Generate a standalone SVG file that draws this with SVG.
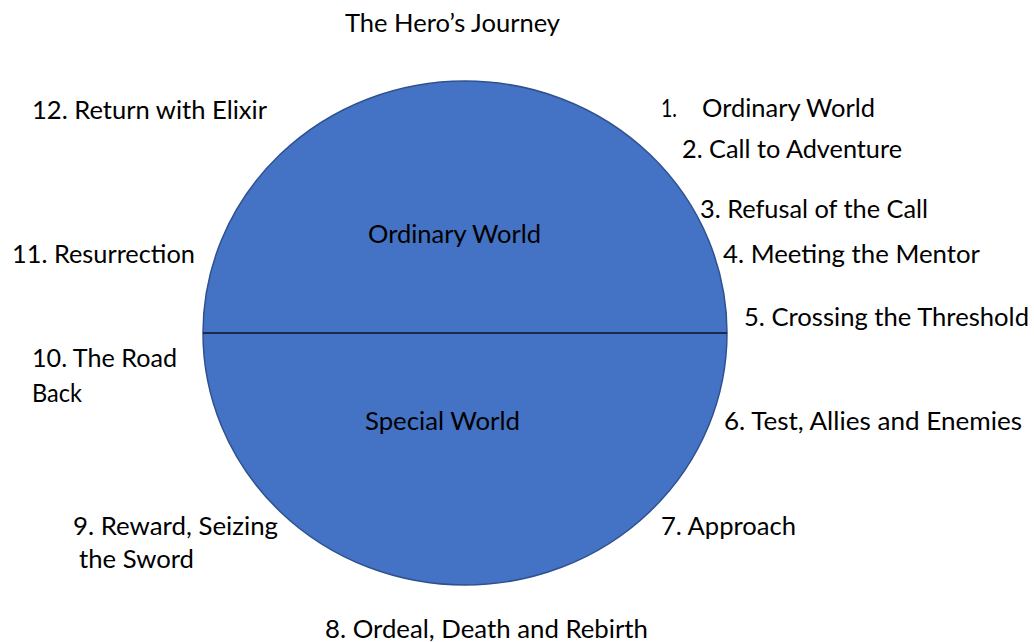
<svg xmlns="http://www.w3.org/2000/svg" width="1034" height="642" viewBox="0 0 1034 642">
<style>
  text { font-family: Lato, "Open Sans", "Liberation Sans", sans-serif; font-size: 25px; fill: #000; }
  .world { fill: #4472C4; stroke: #2F528F; stroke-width: 1.5; }
  .divider { stroke: #1B2A4A; stroke-width: 2; }
</style>
<rect width="1034" height="642" fill="#ffffff"/>
<text id="title" x="345" y="32" textLength="215" lengthAdjust="spacingAndGlyphs">The Hero’s Journey</text>
<g id="circle">
  <ellipse class="world" cx="465" cy="333" rx="262" ry="252"/>
  <line class="divider" x1="203" y1="333" x2="727" y2="333"/>
</g>
<g id="ordinary-world"><text x="368" y="243" textLength="173" lengthAdjust="spacingAndGlyphs">Ordinary World</text></g>
<g id="special-world"><text x="365" y="430" textLength="155" lengthAdjust="spacingAndGlyphs">Special World</text></g>
<g id="stage1"><text x="661" y="117"><tspan textLength="16" lengthAdjust="spacingAndGlyphs">1.</tspan><tspan x="702" textLength="173" lengthAdjust="spacingAndGlyphs">Ordinary World</tspan></text></g>
<g id="stage2"><text x="682" y="158" textLength="220" lengthAdjust="spacingAndGlyphs">2. Call to Adventure</text></g>
<g id="stage3"><text x="700" y="218" textLength="228" lengthAdjust="spacingAndGlyphs">3. Refusal of the Call</text></g>
<g id="stage4"><text x="723" y="263" textLength="257" lengthAdjust="spacingAndGlyphs">4. Meeting the Mentor</text></g>
<g id="stage5"><text x="744" y="326" textLength="285" lengthAdjust="spacingAndGlyphs">5. Crossing the Threshold</text></g>
<g id="stage6"><text x="724" y="430" textLength="298" lengthAdjust="spacingAndGlyphs">6. Test, Allies and Enemies</text></g>
<g id="stage7"><text x="661" y="535" textLength="135" lengthAdjust="spacingAndGlyphs">7. Approach</text></g>
<g id="stage8"><text x="325" y="638" textLength="323" lengthAdjust="spacingAndGlyphs">8. Ordeal, Death and Rebirth</text></g>
<g id="stage9"><text x="73" y="535" textLength="205" lengthAdjust="spacingAndGlyphs">9. Reward, Seizing</text><text x="79" y="568" textLength="115" lengthAdjust="spacingAndGlyphs">the Sword</text></g>
<g id="stage10"><text x="32" y="367" textLength="145" lengthAdjust="spacingAndGlyphs">10. The Road</text><text x="32" y="402" textLength="50" lengthAdjust="spacingAndGlyphs">Back</text></g>
<g id="stage11"><text x="12" y="263" textLength="183" lengthAdjust="spacingAndGlyphs">11. Resurrection</text></g>
<g id="stage12"><text x="32" y="119" textLength="235" lengthAdjust="spacingAndGlyphs">12. Return with Elixir</text></g>
<g id="connectors"></g>
</svg>
